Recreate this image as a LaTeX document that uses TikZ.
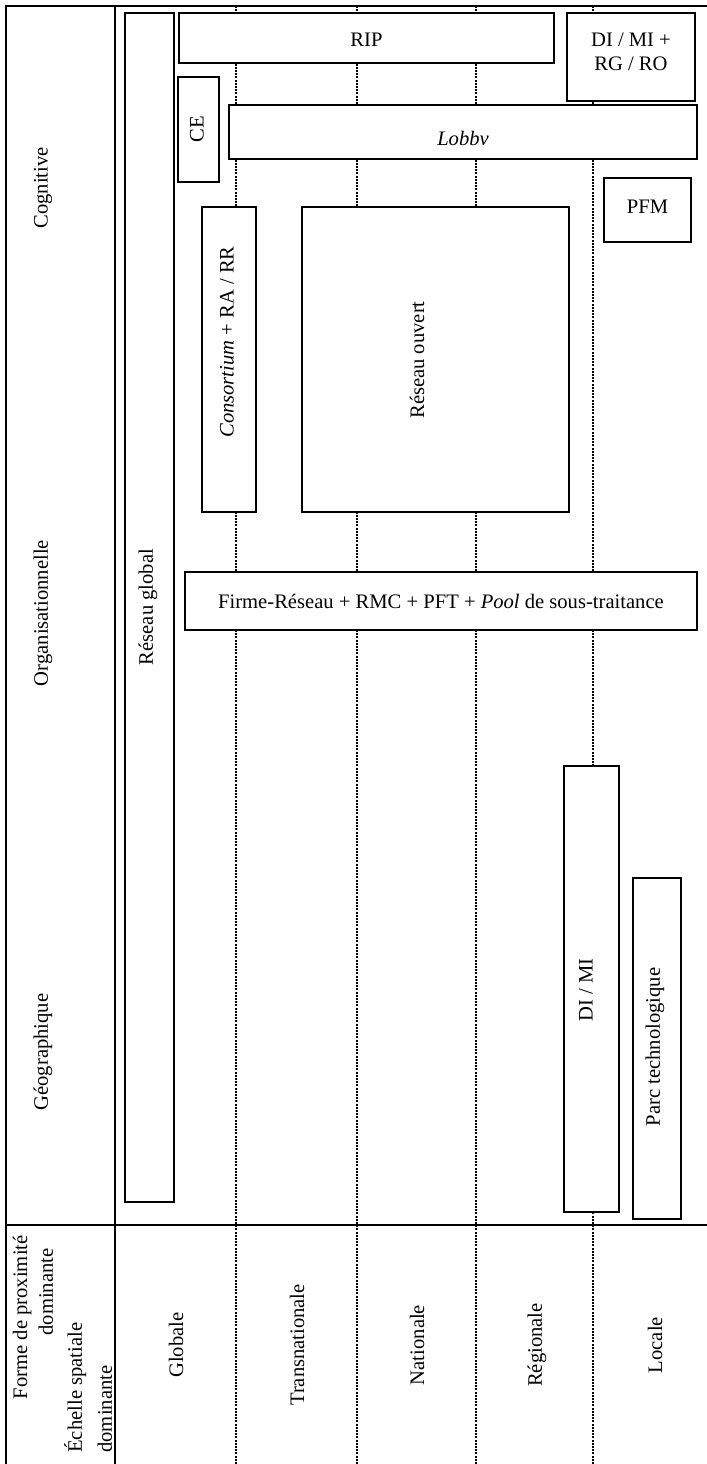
\documentclass[tikz,border=0pt]{standalone}
\usepackage{fontspec}
\setmainfont{Liberation Serif}
\usetikzlibrary{arrows.meta}

\tikzset{
  gridline/.style={line width=0.85pt},
  scaleline/.style={line width=0.75pt, dash pattern=on 1pt off 0.6pt},
  formbox/.style={draw, line width=0.8pt, fill=white},
  lbl/.style={font=\fontsize{10.3}{12}\selectfont, inner sep=0pt},
  vlbl/.style={lbl, rotate=90},
}

\begin{document}
\begin{tikzpicture}[x=0.5pt,y=-0.5pt]
  \useasboundingbox (0,0) rectangle (707,1464);
  \foreach \xx in {236,357,476,593}
    \draw[scaleline] (\xx,6) -- (\xx,1464); % limites des échelles
  \draw[gridline] (707,6) -- (6,6) -- (6,1464);
  \draw[gridline] (115,6) -- (115,1464);
  \draw[gridline] (6,1225) -- (707,1225);

  % formes de proximité
  \node[vlbl] (cognitive) at (43,188) {Cognitive};
  \node[vlbl] (organisation) at (43,613) {Organisationnelle};
  \node[vlbl] (geographique) at (43,1052) {Géographique};

  % échelles spatiales
  \node[vlbl, anchor=base east] (forme) at (27,1235) {Forme de proximité};
  \node[vlbl, anchor=base east] (formedom) at (53,1248) {dominante};
  \node[vlbl, anchor=base west] (echelle) at (82,1453) {Échelle spatiale};
  \node[vlbl, anchor=base west] (echelledom) at (112,1453) {dominante};
  \node[vlbl] (globale) at (176,1345) {Globale};
  \node[vlbl] (transnat) at (297,1345) {Transnationale};
  \node[vlbl] (nationale) at (417,1345) {Nationale};
  \node[vlbl] (regionale) at (537,1345) {Régionale};
  \node[vlbl] (locale) at (655,1345) {Locale};

  % formes de réseau
  \draw[formbox] (125,13) rectangle (174,1202);
  \node[vlbl] (rglobal) at (148,607) {Réseau global};
  \draw[formbox] (179,13) rectangle (554,63);
  \node[lbl] (rip) at (366.5,40) {RIP};
  \draw[formbox] (567,13) rectangle (695,101);
  \node[lbl, align=center] (dimirg) at (631,52) {DI / MI +\\RG / RO};
  \draw[formbox] (178,77) rectangle (219,182);
  \node[vlbl] (ce) at (197,129.5) {CE};
  \draw[formbox] (229,105) rectangle (697,159);
  \node[lbl, font=\fontsize{10.3}{12}\selectfont\itshape] (lobby) at (463,138) {Lobbv};
  \draw[formbox] (604,178) rectangle (691,242);
  \node[lbl] (pfm) at (647.5,207) {PFM};
  \draw[formbox] (202,207) rectangle (256,512);
  \node[vlbl] (consortium) at (227,342) {\textit{Consortium} + RA / RR};
  \draw[formbox] (302,207) rectangle (569,512);
  \node[vlbl] (rouvert) at (417,360) {Réseau ouvert};
  \draw[formbox] (185,572) rectangle (697,630);
  \node[lbl] (firme) at (441,601) {Firme-Réseau + RMC + PFT + \textit{Pool} de sous-traitance};
  \draw[formbox] (564,766) rectangle (619,1212);
  \node[vlbl] (dimi) at (586,990) {DI / MI};
  \draw[formbox] (633,878) rectangle (681,1219);
  \node[vlbl] (parc) at (655,1047) {Parc technologique};
\end{tikzpicture}
\end{document}
